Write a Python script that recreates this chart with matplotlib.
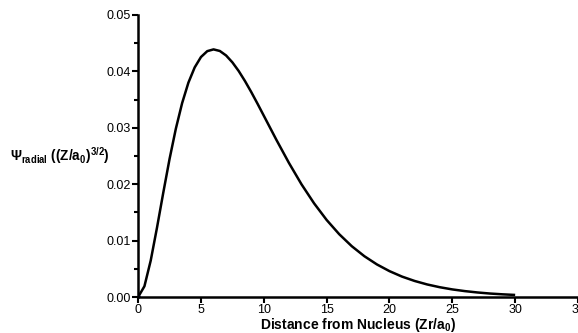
import matplotlib
matplotlib.use("Agg")
import matplotlib.pyplot as plt
from matplotlib.ticker import MultipleLocator

# values
distance = [0, 0.5, 1, 1.5, 2, 2.5, 3, 3.5, 4, 4.5, 5, 5.5, 6, 6.5, 7, 7.5,
            8, 8.5, 9, 9.5, 10, 11, 12, 13, 14, 15, 16, 17, 18, 19, 20,
            21, 22, 23, 24, 25, 26, 27, 28, 29, 30]
psi_radial = [0.0, 0.00191, 0.00646, 0.01230, 0.01850, 0.02448, 0.02984,
              0.03438, 0.03801, 0.04071, 0.04255, 0.04359, 0.04390, 0.04362,
              0.04282, 0.04160, 0.04007, 0.03829, 0.03634, 0.03427, 0.03214,
              0.02787, 0.02377, 0.01998, 0.01661, 0.01366, 0.01114, 0.00901,
              0.00724, 0.00578, 0.00459, 0.00362, 0.00285, 0.00223, 0.00174,
              0.00135, 0.00105, 0.00081, 0.00062, 0.00048, 0.00037]

plt.rcParams["font.family"] = ["Liberation Sans", "DejaVu Sans"]
plt.rcParams["mathtext.fontset"] = "custom"
plt.rcParams["mathtext.rm"] = "Liberation Sans"
plt.rcParams["mathtext.bf"] = "Liberation Sans:bold"

fig = plt.figure(figsize=(5.78, 3.33), dpi=100)
ax = fig.add_axes([0.239, 0.108, 0.761, 0.847])

ax.plot(distance, psi_radial, color="black", linewidth=1.8,
        solid_capstyle="butt", solid_joinstyle="round")
ax.plot([distance[0]], [psi_radial[0]], "o", color="#000080", markersize=2.5)

ax.set_xlim(0, 35)
ax.set_ylim(0, 0.05)
ax.xaxis.set_major_locator(MultipleLocator(5))
ax.yaxis.set_major_locator(MultipleLocator(0.01))
ax.yaxis.set_minor_locator(MultipleLocator(0.005))
ax.yaxis.set_major_formatter(plt.FormatStrFormatter("%.2f"))

for side in ("top", "right"):
    ax.spines[side].set_visible(False)
for side in ("left", "bottom"):
    ax.spines[side].set_linewidth(1.8)

ax.tick_params(which="major", length=4, width=1.5, labelsize=9, pad=1)
ax.tick_params(which="minor", length=3, width=1.5)

ax.set_xlabel(r"Distance from Nucleus (Zr/a$_\mathbf{0}$)",
              fontsize=10, fontweight="bold", labelpad=0)
ax.set_ylabel(r"$\mathbf{\Psi}_{\mathbf{radial}}$ ((Z/a$_\mathbf{0}$)$^{\mathbf{3/2}}$)",
              fontsize=9.8, fontweight="bold", rotation=0, ha="center", va="center")
ax.yaxis.set_label_coords(-0.178, 0.5)

fig.savefig("out.png", dpi=100)
